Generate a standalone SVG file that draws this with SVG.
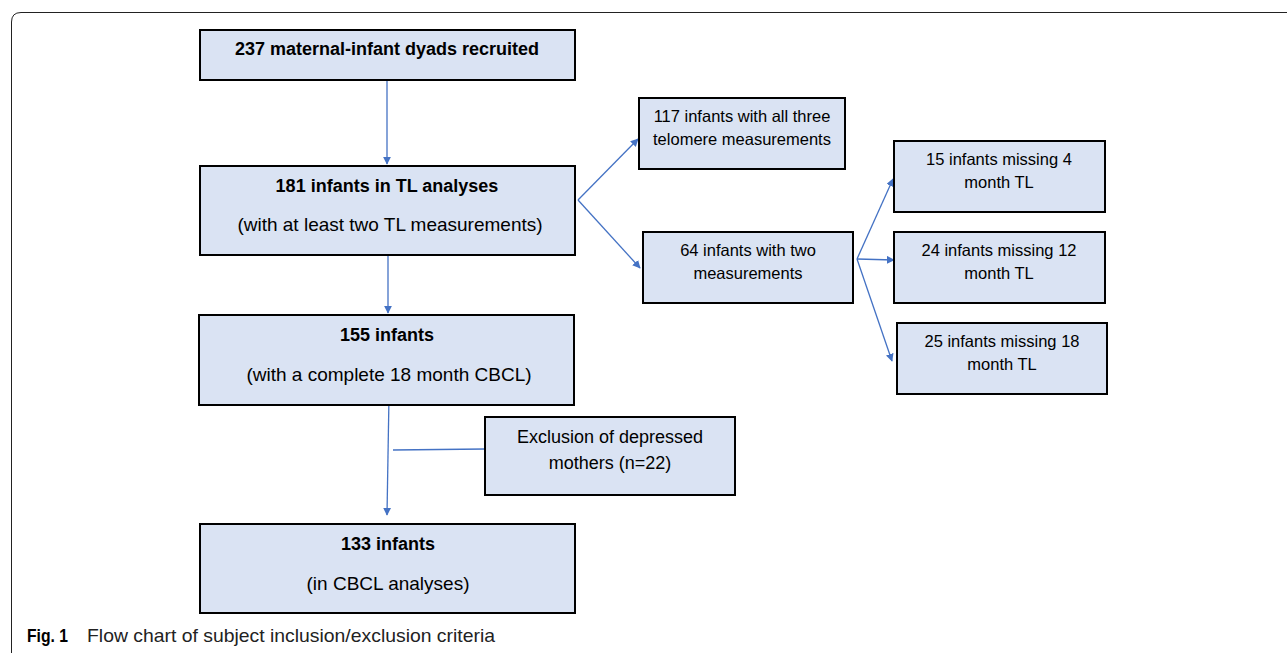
<svg xmlns="http://www.w3.org/2000/svg" width="1287" height="653" viewBox="0 0 1287 653">
<style>
.box{fill:#dae3f3;stroke:#000;stroke-width:2}
.t{font-family:"Liberation Sans",Arial,sans-serif;fill:#000;text-anchor:middle}
.b{font-weight:bold;font-size:18px}
.r{font-size:19px}
.e{font-size:18px}
.s{font-size:16.5px}
.c{stroke:#4472c4;stroke-width:1.3;fill:none}
</style>
<defs>
<marker id="ah" viewBox="0 0 10 10" refX="9" refY="5" markerWidth="8" markerHeight="8" orient="auto" markerUnits="userSpaceOnUse">
<path d="M0,0 L10,5 L0,10 z" fill="#4472c4"/>
</marker>
</defs>
<rect width="1287" height="653" fill="#fff"/>
<path d="M11.5,653 V22 Q11.5,12.5 21,12.5 H1287" fill="none" stroke="#222" stroke-width="1"/>

<g id="connectors">
<line class="c" x1="387" y1="81" x2="387" y2="164" marker-end="url(#ah)"/>
<line class="c" x1="388" y1="246" x2="388" y2="313" marker-end="url(#ah)"/>
<line class="c" x1="389" y1="396" x2="387" y2="515" marker-end="url(#ah)"/>
<line class="c" x1="393" y1="450" x2="485" y2="449"/>
<line class="c" x1="578" y1="200" x2="638" y2="139" marker-end="url(#ah)"/>
<line class="c" x1="578" y1="200" x2="640" y2="268" marker-end="url(#ah)"/>
<line class="c" x1="857" y1="259" x2="893" y2="179" marker-end="url(#ah)"/>
<line class="c" x1="857" y1="259" x2="894" y2="260" marker-end="url(#ah)"/>
<line class="c" x1="857" y1="259" x2="892" y2="361" marker-end="url(#ah)"/>
</g>

<g id="n1"><rect class="box" x="200" y="30" width="375" height="50"/>
<text class="t b" x="387" y="55">237 maternal-infant dyads recruited</text></g>

<g id="n2"><rect class="box" x="200" y="166" width="375" height="89"/>
<text class="t b" x="387" y="192">181 infants in TL analyses</text>
<text class="t r" x="390" y="231">(with at least two TL measurements)</text></g>

<g id="n3"><rect class="box" x="199" y="315" width="375" height="90"/>
<text class="t b" x="387" y="341">155 infants</text>
<text class="t r" x="389" y="381">(with a complete 18 month CBCL)</text></g>

<g id="n4"><rect class="box" x="485" y="417" width="250" height="78"/>
<text class="t e" x="610" y="443">Exclusion of depressed</text>
<text class="t e" x="610" y="469">mothers (n=22)</text></g>

<g id="n5"><rect class="box" x="200" y="524" width="375" height="89"/>
<text class="t b" x="388" y="550">133 infants</text>
<text class="t r" x="388" y="590">(in CBCL analyses)</text></g>

<g id="n6"><rect class="box" x="639" y="98" width="206" height="71"/>
<text class="t s" x="742" y="122">117 infants with all three</text>
<text class="t s" x="742" y="145">telomere measurements</text></g>

<g id="n7"><rect class="box" x="643" y="232" width="210" height="71"/>
<text class="t s" x="748" y="256">64 infants with two</text>
<text class="t s" x="748" y="279">measurements</text></g>

<g id="n8"><rect class="box" x="894" y="141" width="211" height="71"/>
<text class="t s" x="999" y="165">15 infants missing 4</text>
<text class="t s" x="999" y="188">month TL</text></g>

<g id="n9"><rect class="box" x="894" y="232" width="211" height="71"/>
<text class="t s" x="999" y="256">24 infants missing 12</text>
<text class="t s" x="999" y="279">month TL</text></g>

<g id="n10"><rect class="box" x="897" y="323" width="210" height="71"/>
<text class="t s" x="1002" y="347">25 infants missing 18</text>
<text class="t s" x="1002" y="370">month TL</text></g>

<g id="caption">
<text x="27" y="642" textLength="41" lengthAdjust="spacingAndGlyphs" style="font-family:'Liberation Sans',Arial,sans-serif;font-size:19px;font-weight:bold">Fig. 1</text>
<text x="87" y="642" textLength="408" lengthAdjust="spacingAndGlyphs" style="font-family:'Liberation Sans',Arial,sans-serif;font-size:19px;fill:#222">Flow chart of subject inclusion/exclusion criteria</text>
</g>
</svg>
